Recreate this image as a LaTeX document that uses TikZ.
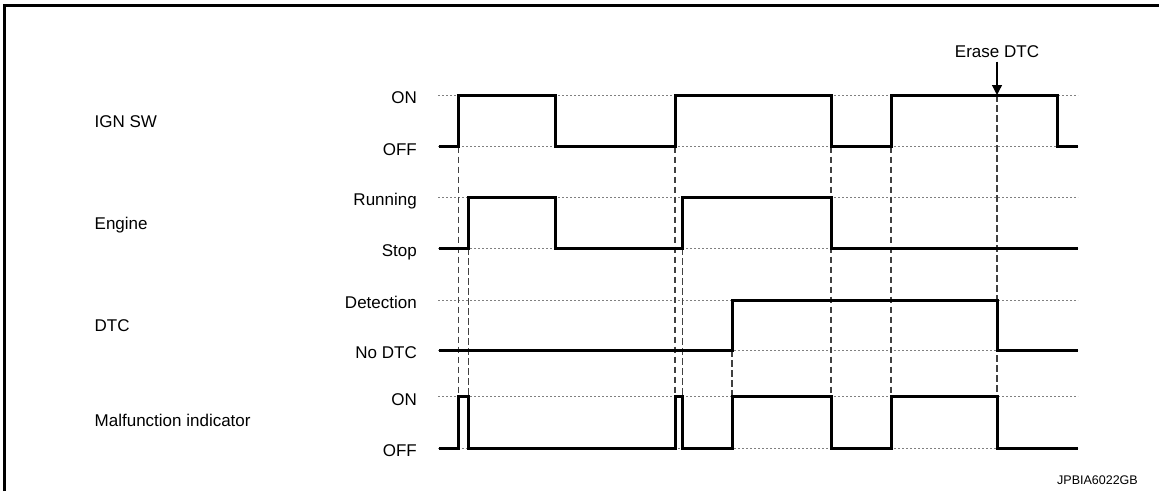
\documentclass[tikz,border=0pt]{standalone}
\usepackage{fontspec}
\setmainfont{Liberation Sans}
\usetikzlibrary{arrows.meta}
\begin{document}
\begin{tikzpicture}[x=1pt,y=-1pt,
  signal/.style={line width=3pt,line join=miter,black},
  levelline/.style={line width=0.8pt,gray,dash pattern=on 2pt off 2pt},
  guide/.style={line width=1.3pt,black!75,dash pattern=on 6.5pt off 3.5pt},
  frameline/.style={line width=3pt,black},
  lbl/.style={inner sep=0pt,font=\fontsize{17}{20}\selectfont},
  codelbl/.style={inner sep=0pt,font=\fontsize{12.5}{15}\selectfont}]
\useasboundingbox (0,0) rectangle (1159,491);
% frame
\draw[frameline] (4.5,491) -- (4.5,5.5) -- (1159,5.5);
% level lines
\foreach \y in {95,146.7,197,248.3,300,350,396.7,448.3}
  \draw[levelline] (438,\y) -- (1078,\y);
% guide lines
\draw[guide] (458.7,146.7) -- (458.7,396.7);
\draw[guide] (468.3,248.3) -- (468.3,396.7);
\draw[guide] (675,146.7) -- (675,396.7);
\draw[guide] (682.7,248.3) -- (682.7,396.7);
\draw[guide] (732,350) -- (732,396.7);
\draw[guide] (831,146.7) -- (831,396.7);
\draw[guide] (891,146.7) -- (891,396.7);
\draw[guide] (997,95) -- (997,396.7);
% signals
\draw[signal] (439,146.7) -- (458.7,146.7) -- (458.7,95) -- (555,95) -- (555,146.7) -- (675,146.7) -- (675,95) -- (831,95) -- (831,146.7) -- (891,146.7) -- (891,95) -- (1057.7,95) -- (1057.7,146.7) -- (1078,146.7);
\draw[signal] (439,248.3) -- (468.3,248.3) -- (468.3,197) -- (555,197) -- (555,248.3) -- (682.7,248.3) -- (682.7,197) -- (831,197) -- (831,248.3) -- (1078,248.3);
\draw[signal] (439,350) -- (732,350) -- (732,300) -- (997,300) -- (997,350) -- (1078,350);
\draw[signal] (439,448.3) -- (458.7,448.3) -- (458.7,396.7) -- (468.3,396.7) -- (468.3,448.3) -- (675,448.3) -- (675,396.7) -- (682.7,396.7) -- (682.7,448.3) -- (732,448.3) -- (732,396.7) -- (831,396.7) -- (831,448.3) -- (891,448.3) -- (891,396.7) -- (997,396.7) -- (997,448.3) -- (1078,448.3);
% group labels
\node[lbl,anchor=base west] (ign) at (94.5,127.5) {IGN SW};
\node[lbl,anchor=base west] (eng) at (94.5,229) {Engine};
\node[lbl,anchor=base west] (dtc) at (94.5,331) {DTC};
\node[lbl,anchor=base west] (mil) at (94.5,426.6) {Malfunction indicator};
% level labels
\node[lbl,anchor=base east] (ignon) at (417,103.6) {ON};
\node[lbl,anchor=base east] (ignoff) at (417,155.3) {OFF};
\node[lbl,anchor=base east] (engrun) at (417,205.6) {Running};
\node[lbl,anchor=base east] (engstop) at (417,256.9) {Stop};
\node[lbl,anchor=base east] (dtcdet) at (417,308.6) {Detection};
\node[lbl,anchor=base east] (dtcno) at (417,358.6) {No DTC};
\node[lbl,anchor=base east] (milon) at (417,405.3) {ON};
\node[lbl,anchor=base east] (miloff) at (417,456.9) {OFF};
% erase DTC
\node[lbl,anchor=base] (erase) at (997,57.3) {Erase DTC};
\coordinate (erasetip) at (997,95);
\draw[line width=1.2pt,-{Triangle[width=10pt,length=10pt]}] (erase.south) ++(0,4) -- (erasetip);
% code
\node[codelbl,anchor=base east] (code) at (1138,484) {JPBIA6022GB};
\end{tikzpicture}
\end{document}
